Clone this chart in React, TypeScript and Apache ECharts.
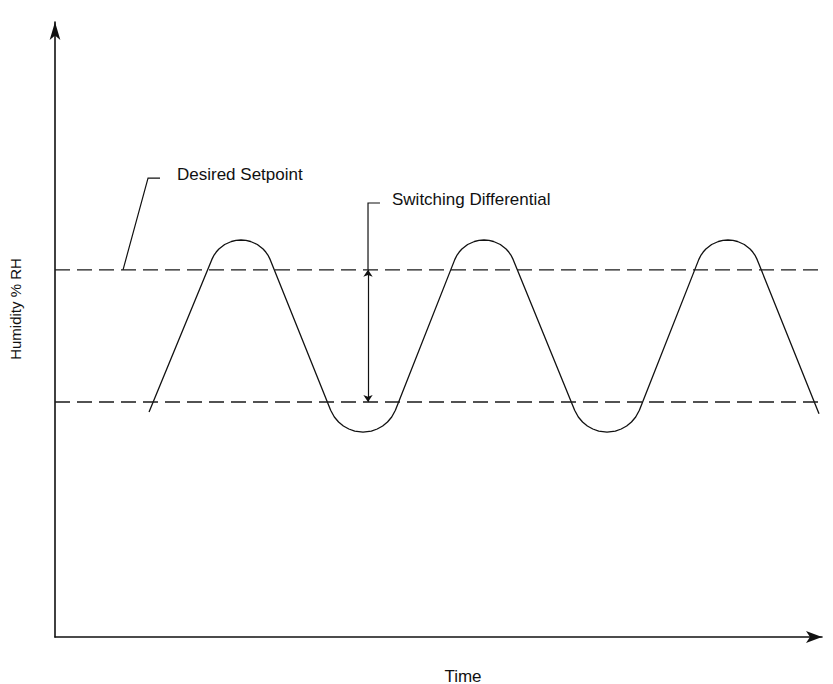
import React, { useEffect, useRef } from "react";
import * as echarts from "echarts";

// Axis ranges (arbitrary units: Time and Humidity % RH)
const timeRange = [0, 100];
const humidityRange = [0, 100];

// Switching levels
const setpoint = 59.7;
const lowerSwitch = 38.2;
const lineEndTime = 101.4;

// Humidity wave (start, peak, trough, peak, trough, peak, end)
const waveTime = [
  12.26,
  20.44, 20.74, 21.02, 21.37, 22.12, 23.0, 23.6, 24.25, 24.9, 25.5, 26.38, 27.13, 27.48, 27.76, 28.06,
  35.94, 36.42, 36.97, 37.6, 38.31, 39.08, 40.16, 41.24, 42.01, 42.72, 43.35, 43.9, 44.38,
  52.12, 52.42, 52.7, 53.05, 53.8, 54.68, 55.28, 55.93, 56.58, 57.18, 58.06, 58.81, 59.16, 59.44, 59.74,
  67.75, 68.23, 68.78, 69.41, 70.12, 70.89, 71.97, 73.05, 73.82, 74.53, 75.16, 75.71, 76.19,
  83.93, 84.23, 84.51, 84.86, 85.61, 86.49, 87.09, 87.74, 88.39, 88.99, 89.87, 90.62, 90.97, 91.25, 91.55,
  99.61,
];
const waveHumidity = [
  36.6,
  61.36, 62.11, 62.6, 63.09, 63.82, 64.31, 64.48, 64.55, 64.48, 64.31, 63.82, 63.09, 62.6, 62.11, 61.36,
  36.86, 35.77, 34.96, 34.31, 33.82, 33.49, 33.33, 33.49, 33.82, 34.31, 34.96, 35.77, 36.86,
  61.36, 62.11, 62.6, 63.09, 63.82, 64.31, 64.48, 64.55, 64.48, 64.31, 63.82, 63.09, 62.6, 62.11, 61.36,
  36.86, 35.77, 34.96, 34.31, 33.82, 33.49, 33.33, 33.49, 33.82, 34.31, 34.96, 35.77, 36.86,
  61.36, 62.11, 62.6, 63.09, 63.82, 64.31, 64.48, 64.55, 64.48, 64.31, 63.82, 63.09, 62.6, 62.11, 61.36,
  36.3,
];

// Annotation leaders
const setpointLeader = [
  [13.69, 74.63],
  [12.13, 74.63],
  [8.87, setpoint],
];
const differentialLeader = [
  [42.37, 70.57],
  [40.81, 70.57],
  [40.81, setpoint],
];
const differentialArrow = [
  [40.81, setpoint],
  [40.81, lowerSwitch],
];

const texts = {
  yName: "Humidity % RH",
  xName: "Time",
  setpointLabel: "Desired Setpoint",
  differentialLabel: "Switching Differential",
};

export default function App() {
  const ref = useRef<HTMLDivElement>(null);

  useEffect(() => {
    if (!ref.current) return;
    const chart = echarts.init(ref.current, null, { renderer: "svg" });
    const ink = "#111";
    const font = "'Liberation Sans', Arial, Helvetica, sans-serif";
    const axisCommon = {
      type: "value" as const,
      axisLine: {
        show: true,
        onZero: false,
        lineStyle: { color: ink, width: 1.6 },
      },
      axisTick: { show: false },
      axisLabel: { show: false },
      splitLine: { show: false },
    };
    const dashed = {
      color: "#1a1a1a",
      width: 1.4,
      type: [15, 7] as any,
    };
    chart.setOption({
      animation: false,
      backgroundColor: "#fff",
      grid: { left: 55, right: 11, top: 22, bottom: 47 },
      xAxis: {
        ...axisCommon,
        min: timeRange[0],
        max: timeRange[1],
        axisLine: {
          ...axisCommon.axisLine,
          symbol: ["none", "arrow"],
          symbolSize: [9, 16],
        },
      },
      yAxis: {
        ...axisCommon,
        min: humidityRange[0],
        max: humidityRange[1],
        axisLine: {
          ...axisCommon.axisLine,
          symbol: ["none", "arrow"],
          symbolSize: [8, 18],
        },
      },
      series: [
        {
          type: "line",
          data: waveTime.map((t, i) => [t, waveHumidity[i]]),
          showSymbol: false,
          smooth: false,
          lineStyle: { color: ink, width: 1.3, join: "round" },
        },
        {
          type: "line",
          data: [
            [timeRange[0], setpoint],
            [lineEndTime, setpoint],
          ],
          clip: false,
          showSymbol: false,
          lineStyle: dashed,
        },
        {
          type: "line",
          data: [
            [timeRange[0], lowerSwitch],
            [lineEndTime, lowerSwitch],
          ],
          clip: false,
          showSymbol: false,
          lineStyle: dashed,
        },
        {
          type: "lines",
          coordinateSystem: "cartesian2d",
          polyline: true,
          symbol: ["none", "arrow"],
          symbolSize: 7,
          lineStyle: { color: ink, width: 1.2, opacity: 1 },
          data: [{ coords: setpointLeader }, { coords: differentialLeader }],
        },
        {
          type: "lines",
          coordinateSystem: "cartesian2d",
          symbol: ["arrow", "arrow"],
          symbolSize: 7,
          lineStyle: { color: ink, width: 1.2, opacity: 1 },
          data: [{ coords: differentialArrow }],
        },
      ],
      graphic: [
        {
          type: "text",
          x: 177,
          y: 174,
          style: {
            text: texts.setpointLabel,
            fill: ink,
            font: `17px ${font}`,
            verticalAlign: "middle",
            align: "left",
          },
        },
        {
          type: "text",
          x: 392,
          y: 199,
          style: {
            text: texts.differentialLabel,
            fill: ink,
            font: `17px ${font}`,
            verticalAlign: "middle",
            align: "left",
          },
        },
        {
          type: "text",
          x: 463,
          y: 676,
          style: {
            text: texts.xName,
            fill: ink,
            font: `17px ${font}`,
            verticalAlign: "middle",
            align: "center",
          },
        },
        {
          type: "text",
          x: 15,
          y: 309,
          rotation: Math.PI / 2,
          style: {
            text: texts.yName,
            fill: ink,
            font: `15px ${font}`,
            verticalAlign: "middle",
            align: "center",
          },
        },
      ],
    });
    return () => chart.dispose();
  }, []);

  return (
    <div
      ref={ref}
      style={{ position: "absolute", left: 0, top: 0, width: 833, height: 684 }}
    />
  );
}
